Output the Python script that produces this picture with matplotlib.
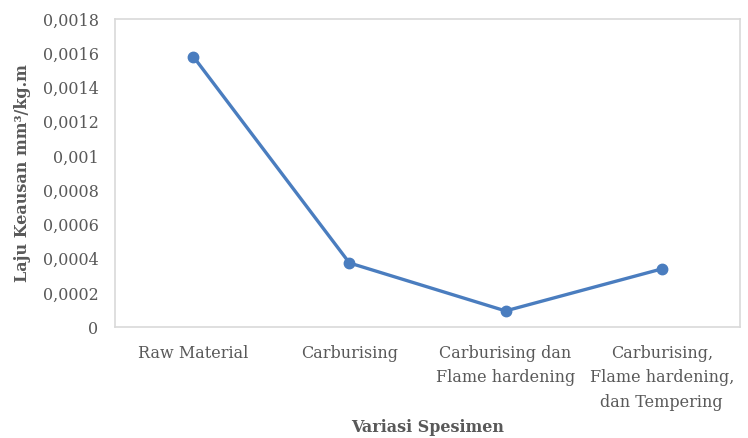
import numpy as np
import matplotlib
matplotlib.use('Agg')
import matplotlib.pyplot as plt
from matplotlib.ticker import FuncFormatter

# data laju keausan tiap variasi spesimen
kategori = ['Raw Material', 'Carburising', 'Carburising dan\nFlame hardening',
            'Carburising,\nFlame hardening,\ndan Tempering']
laju_keausan = [0.00158, 0.000375, 0.000095, 0.00034]
y_ticks = [0, 0.0002, 0.0004, 0.0006, 0.0008, 0.001, 0.0012, 0.0014, 0.0016, 0.0018]

plt.rcParams['font.family'] = ['DejaVu Serif']
grey = '#595959'

fig = plt.figure(figsize=(7.48, 4.38), dpi=100)
ax = fig.add_axes([0.154, 0.253, 0.835, 0.704])

x = np.arange(len(kategori))
ax.plot(x, laju_keausan, color='#4a7dbf', linewidth=2.4, marker='o', markersize=7.5)

ax.set_xlim(-0.5, len(kategori) - 0.5)
ax.set_ylim(0, 0.0018)
ax.set_yticks(y_ticks)
# format angka pakai koma desimal
ax.yaxis.set_major_formatter(FuncFormatter(lambda v, p: f'{round(v, 6):g}'.replace('.', ',')))
ax.set_xticks(x)
ax.set_xticklabels(kategori, fontsize=11.5, color=grey, linespacing=1.55, va='top')
ax.tick_params(axis='y', labelsize=11.5, colors=grey, length=0, pad=12)
ax.tick_params(axis='x', length=0, pad=13)

for s in ax.spines.values():
    s.set_color('#d9d9d9')
    s.set_linewidth(1.2)

ax.set_ylabel('Laju Keausan mm³/kg.m', fontsize=11.5, fontweight='bold', color=grey, labelpad=8)
ax.set_xlabel('Variasi Spesimen', fontsize=11.5, fontweight='bold', color=grey, va='center')
ax.xaxis.set_label_coords(0.5, -0.325)

fig.savefig('out.png', dpi=100)
